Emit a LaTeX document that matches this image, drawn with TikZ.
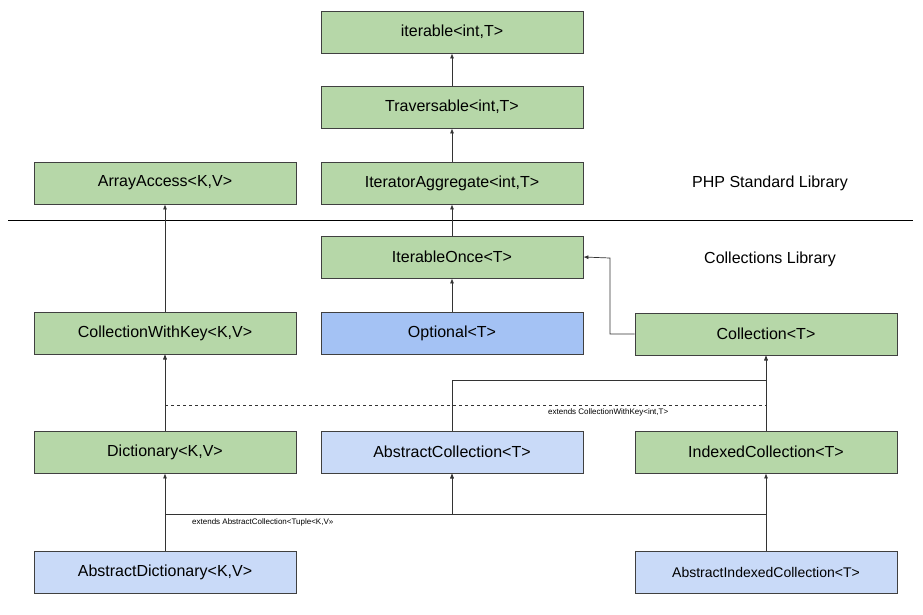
\documentclass[tikz,border=0pt]{standalone}
\usepackage{fontspec}
\setmainfont{Liberation Sans}
\usetikzlibrary{arrows.meta}
\definecolor{gr}{HTML}{B6D7A8}
\definecolor{bl}{HTML}{A4C2F4}
\definecolor{lb}{HTML}{C9DAF8}
\begin{document}
\begin{tikzpicture}[x=1pt,y=-1pt,
 box/.style={draw=black!75,line width=0.8pt,minimum width=262pt,minimum height=42pt,inner sep=0pt,font=\fontsize{16}{18}\selectfont},
 g/.style={box,fill=gr}, b/.style={box,fill=bl}, l/.style={box,fill=lb},
 ar/.style={draw=black!80,line width=0.7pt,-{Latex[length=5pt,width=4pt]}},
 lab/.style={font=\fontsize{8}{9}\selectfont,inner sep=0pt}]
\useasboundingbox (0,0) rectangle (923,614);
\node[g] (it) at (452,32) {iterable<int,T>};
\node[g] (tr) at (452,107) {Traversable<int,T>};
\node[g] (ia) at (452,183) {IteratorAggregate<int,T>};
\node[g] (aa) at (165,183) {ArrayAccess<K,V>};
\node[g] (io) at (452,257) {IterableOnce<T>};
\node[g] (cwk) at (165,333) {CollectionWithKey<K,V>};
\node[b] (op) at (452,333) {Optional<T>};
\node[g] (co) at (766,334) {Collection<T>};
\node[g] (di) at (165,452) {Dictionary<K,V>};
\node[l] (ac) at (452,452) {AbstractCollection<T>};
\node[g] (ic) at (766,452) {IndexedCollection<T>};
\node[l] (ad) at (165,572) {AbstractDictionary<K,V>};
\node[l,font=\fontsize{14}{16}\selectfont] (ai) at (766,572) {AbstractIndexedCollection<T>};
\node[font=\fontsize{16}{18}\selectfont] (t1) at (770,183) {PHP Standard Library};
\node[font=\fontsize{16}{18}\selectfont] (t2) at (770,259) {Collections Library};
\coordinate (s1) at (8,220); \coordinate (s2) at (913,220);
\draw[line width=0.8pt] (s1) -- (s2);
\draw[ar] (tr) -- (it);
\draw[ar] (ia) -- (tr);
\draw[ar] (io) -- (ia);
\draw[ar] (op) -- (io);
\draw[ar] (cwk) -- (aa);
\draw[ar] (co.west) -| (610,258) -- (io.east);
\draw[ar] (di) -- (cwk);
\draw[ar,dashed] (ic.north) |- (165,405) -- (cwk.south);
\draw[ar] (ac.north) |- (766,380) -- (co.south);
\draw[ar] (ic) -- (co);
\draw[ar] (ad) -- (di);
\draw[ar] (ai) -- (ic);
\draw[ar] (ad.north) |- (452,514) -- (ac.south);
\draw[ar] (ai.north) |- (452,514) -- (ac.south);
\node[lab,anchor=west] (l1) at (548,412) {extends CollectionWithKey<int,T>};
\node[lab,anchor=west] (l2) at (192,522) {extends AbstractCollection<Tuple<K,V>>};
\end{tikzpicture}
\end{document}
